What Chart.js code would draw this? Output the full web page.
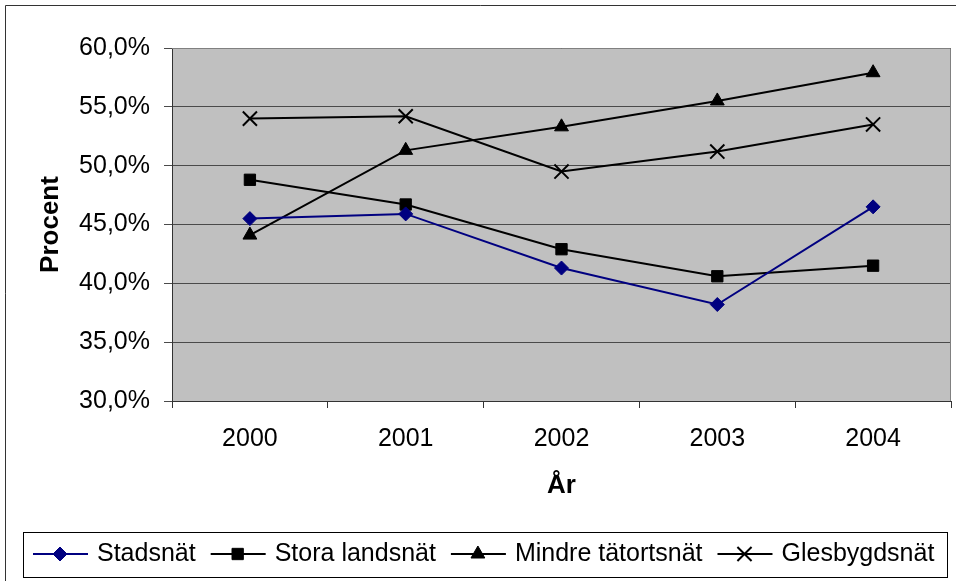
<!DOCTYPE html>
<html>
<head>
<meta charset="utf-8">
<script src="https://cdn.jsdelivr.net/npm/chart.js@4/dist/chart.umd.min.js"></script>
<style>
  html, body { margin: 0; padding: 0; background: #fff; }
  #wrap { width: 956px; height: 581px; }
</style>
</head>
<body>
<div id="wrap"><canvas id="chart" width="956" height="581"></canvas></div>
<script>
// data
const years = ["2000", "2001", "2002", "2003", "2004"];
const stadsnat = [45.5, 45.9, 41.3, 38.2, 46.5];
const storaLandsnat = [48.8, 46.7, 42.9, 40.6, 41.5];
const mindreTatortsnat = [44.1, 51.3, 53.3, 55.5, 57.9];
const glesbygdsnat = [54.0, 54.2, 49.5, 51.2, 53.5];
const yTicks = [30, 35, 40, 45, 50, 55, 60];

const FONT = "'Liberation Sans', Arial, sans-serif";

// gray plot background + border + outer frame + legend box
const excelLook = {
    id: 'excelLook',
    beforeDraw(chart) {
        const { ctx, chartArea: a } = chart;
        ctx.save();
        ctx.fillStyle = '#c0c0c0';
        ctx.fillRect(a.left, a.top, a.right - a.left, a.bottom - a.top);
        ctx.restore();
    },
    afterDatasetsDraw(chart) {
        const { ctx, chartArea: a } = chart;
        ctx.save();
        ctx.strokeStyle = '#808080';
        ctx.lineWidth = 1;
        ctx.beginPath();
        ctx.moveTo(a.left, a.top + 0.5);
        ctx.lineTo(a.right - 0.5, a.top + 0.5);
        ctx.lineTo(a.right - 0.5, a.bottom);
        ctx.stroke();
        ctx.restore();
    },
    afterDraw(chart) {
        const ctx = chart.ctx;
        ctx.save();
        // outer chart frame
        ctx.strokeStyle = '#333';
        ctx.lineWidth = 1;
        ctx.beginPath();
        ctx.moveTo(5.5, 581);
        ctx.lineTo(5.5, 5.5);
        ctx.lineTo(956, 5.5);
        ctx.stroke();

        // legend box
        ctx.strokeStyle = '#000';
        ctx.strokeRect(23.5, 532.5, 924, 45);

        const cy = 554;
        let x = 33;
        ctx.font = '25px ' + FONT;
        ctx.textBaseline = 'middle';
        ctx.textAlign = 'left';
        chart.data.datasets.forEach(ds => {
            ctx.strokeStyle = ds.borderColor;
            ctx.lineWidth = 2;
            ctx.beginPath();
            ctx.moveTo(x, cy);
            ctx.lineTo(x + 55, cy);
            ctx.stroke();
            ctx.fillStyle = ds.pointBackgroundColor;
            ctx.strokeStyle = ds.pointBorderColor;
            ctx.lineWidth = ds.pointBorderWidth;
            Chart.helpers.drawPoint(ctx, {
                pointStyle: ds.pointStyle,
                radius: ds.pointRadius,
                borderWidth: ds.pointBorderWidth,
                rotation: 0
            }, x + 27, cy);
            ctx.fillStyle = '#000';
            ctx.fillText(ds.label, x + 64, cy);
            x += 64 + ctx.measureText(ds.label).width + 15;
        });
        ctx.restore();
    }
};

function series(label, data, color, style, radius, bw) {
    return {
        label: label,
        data: data,
        borderColor: color,
        backgroundColor: color,
        borderWidth: 2,
        pointStyle: style,
        pointRadius: radius,
        pointHoverRadius: radius,
        pointBackgroundColor: color,
        pointBorderColor: color,
        pointBorderWidth: bw,
        tension: 0
    };
}

new Chart(document.getElementById('chart').getContext('2d'), {
    type: 'line',
    data: {
        labels: years,
        datasets: [
            series('Stadsnät', stadsnat, '#000080', 'rectRot', 7, 1),
            series('Stora landsnät', storaLandsnat, '#000000', 'rect', 8, 1),
            series('Mindre tätortsnät', mindreTatortsnat, '#000000', 'triangle', 8, 1),
            series('Glesbygdsnät', glesbygdsnat, '#000000', 'crossRot', 10, 2)
        ]
    },
    options: {
        responsive: false,
        animation: false,
        layout: { autoPadding: false, padding: { top: 48, right: 5, left: 0, bottom: 80 } },
        plugins: {
            legend: { display: false },
            tooltip: { enabled: false }
        },
        scales: {
            x: {
                offset: true,
                afterFit: s => { s.height = 100; },
                grid: {
                    offset: true,
                    drawOnChartArea: false,
                    drawTicks: true,
                    tickLength: 7,
                    color: '#333'
                },
                border: { color: '#333', width: 1 },
                ticks: {
                    color: '#000',
                    padding: 16,
                    font: { family: FONT, size: 25 }
                },
                title: {
                    display: true,
                    text: 'År',
                    color: '#000',
                    padding: { top: 0, bottom: 0 },
                    font: { family: FONT, size: 26, weight: 'bold' }
                }
            },
            y: {
                min: 30,
                max: 60,
                afterFit: s => { s.width = 172; },
                afterBuildTicks: s => { s.ticks = yTicks.map(v => ({ value: v })); },
                grid: {
                    color: '#4a4a4a',
                    lineWidth: 1,
                    drawTicks: true,
                    tickLength: 8
                },
                border: { color: '#333', width: 1 },
                ticks: {
                    color: '#000',
                    padding: 14,
                    font: { family: FONT, size: 25 },
                    callback: v => v.toFixed(1).replace('.', ',') + '%'
                },
                title: {
                    display: true,
                    text: 'Procent',
                    color: '#000',
                    padding: { top: 35, bottom: 0 },
                    font: { family: FONT, size: 26, weight: 'bold' }
                }
            }
        }
    },
    plugins: [excelLook]
});
</script>
</body>
</html>
